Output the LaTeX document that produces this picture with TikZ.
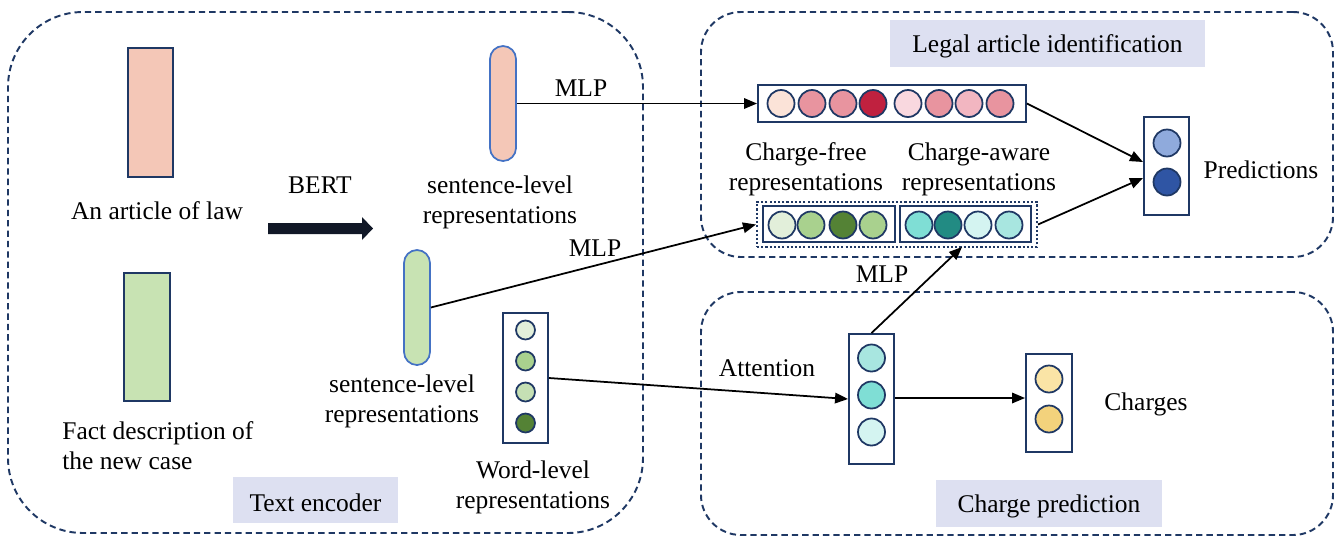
\documentclass[tikz,border=0pt]{standalone}
\usepackage{fontspec}
\setmainfont{Liberation Serif}
\usetikzlibrary{arrows.meta,fit,calc}
\definecolor{navy}{RGB}{31,56,100}
\definecolor{capblue}{RGB}{68,114,196}
\definecolor{lav}{RGB}{221,224,241}
\definecolor{pinkfill}{RGB}{244,199,183}
\definecolor{greenfill}{RGB}{200,227,179}
\definecolor{rA}{RGB}{251,227,216}
\definecolor{rB}{RGB}{232,148,159}
\definecolor{rC}{RGB}{192,33,63}
\definecolor{rD}{RGB}{249,216,223}
\definecolor{rE}{RGB}{242,182,193}
\definecolor{gA}{RGB}{226,239,218}
\definecolor{gB}{RGB}{169,209,142}
\definecolor{gC}{RGB}{84,130,53}
\definecolor{gD}{RGB}{197,224,180}
\definecolor{tA}{RGB}{127,222,213}
\definecolor{tB}{RGB}{34,139,131}
\definecolor{tC}{RGB}{212,244,241}
\definecolor{tD}{RGB}{168,230,224}
\definecolor{yA}{RGB}{250,228,166}
\definecolor{yB}{RGB}{243,210,124}
\definecolor{bA}{RGB}{143,170,220}
\definecolor{bB}{RGB}{47,85,164}
\definecolor{arrowdark}{RGB}{17,24,39}
\begin{document}
\begin{tikzpicture}[x=0.02cm,y=-0.02cm,
  font={\fontsize{14.5}{17}\selectfont},
  region/.style={draw=navy, dash pattern=on 3.6pt off 2.3pt, line width=1.1pt, inner sep=0pt},
  block/.style={draw=navy, line width=1.1pt, inner sep=0pt},
  capsule/.style={draw=capblue, line width=1pt, rounded corners=0.26cm, inner sep=0pt},
  vecbox/.style={draw=navy, line width=1.1pt, fill=white, inner sep=0pt},
  dotbox/.style={draw=navy, dash pattern=on 1.2pt off 1.2pt, line width=1.2pt, inner sep=0pt},
  circ/.style={circle, draw=navy, line width=1pt, minimum size=0.54cm, inner sep=0pt},
  scirc/.style={circle, draw=navy, line width=1pt, minimum size=0.38cm, inner sep=0pt},
  lbl/.style={fill=lav, inner sep=0pt},
  txt/.style={align=center, inner sep=0pt},
  conn/.style={line width=1pt, -{Triangle[length=0.26cm,width=0.21cm]}},
  plain/.style={line width=1pt}
]
\useasboundingbox (0,0) rectangle (1340,538);

% regions
\node[region, rounded corners=1.5cm, fit={(8,12) (643,533)}] (enc) {};
\node[region, rounded corners=0.8cm, fit={(701,12) (1333,257)}] (lai) {};
\node[region, rounded corners=0.8cm, fit={(701,292) (1333,535)}] (cp) {};

% region labels
\node[lbl, fit={(233,477) (398,523)}] (encl) {};
\node[txt] at ($(encl.center)+(0,3)$) (enct) {Text encoder};
\node[lbl, fit={(890,20) (1205,67)}] (lail) {};
\node[txt] at ($(lail.center)+(0,3)$) (lait) {Legal article identification};
\node[lbl, fit={(936,480) (1162,527)}] (cpl) {};
\node[txt] at ($(cpl.center)+(0,3)$) (cpt) {Charge prediction};

% inputs
\node[block, fill=pinkfill, fit={(128,48) (173,177)}] (law) {};
\node[txt] at (157,211) (lawt) {An article of law};
\node[block, fill=greenfill, fit={(124,273) (170,401)}] (fact) {};
\node[txt, anchor=west, align=left] at (62,446) (factt) {Fact description of\\the new case};

% BERT arrow
\node[txt] at (320,185) (bert) {BERT};
\fill[arrowdark] (268,223) -- (362,223) -- (362,217) -- (373,228.5) -- (362,240) -- (362,234) -- (268,234) -- cycle;

% sentence-level capsules
\node[capsule, fill=pinkfill, fit={(490,46) (516,161)}] (sl1) {};
\node[txt] at (500,202) (sl1t) {sentence-level\\representations};
\node[capsule, fill=greenfill, fit={(404,250) (430,365)}] (sl2) {};
\node[txt] at (402,401) (sl2t) {sentence-level\\representations};

% word-level
\node[vecbox, fit={(503,313) (548,443)}] (wl) {};
\node[scirc, fill=gA] (w1) at (525.5,330) {};
\node[scirc, fill=gB] (w2) at (525.5,361) {};
\node[scirc, fill=gD] (w3) at (525.5,392) {};
\node[scirc, fill=gC] (w4) at (525.5,423) {};
\node[txt] at (533,487) (wlt) {Word-level\\representations};

% legal article representation row
\node[vecbox, fit={(758,85) (1026,122)}] (lrep) {};
\foreach \xx/\cc [count=\i] in {781/rA,812/rB,843/rB,873/rC,908/rD,939/rB,969/rE,1000/rB}
  \node[circ, fill=\cc] (lr\i) at (\xx,103.5) {};

\node[txt] at (806,169) (cft) {Charge-free\\representations};
\node[txt] at (979,169) (cat) {Charge-aware\\representations};

% combined representation row
\node[dotbox, fit={(757,202) (1037,247)}] (comb) {};
\node[vecbox, fit={(763,206) (895,242)}] (cf) {};
\node[vecbox, fit={(900,206) (1031,242)}] (ca) {};
\foreach \xx/\cc [count=\i] in {782/gA,811/gB,843/gC,873/gB}
  \node[circ, fill=\cc] (g\i) at (\xx,225) {};
\foreach \xx/\cc [count=\i] in {919/tA,948/tB,978/tC,1009/tD}
  \node[circ, fill=\cc] (t\i) at (\xx,225) {};

% predictions
\node[vecbox, fit={(1144,117) (1189,215)}] (pred) {};
\node[circ, fill=bA] (p1) at (1167,143) {};
\node[circ, fill=bB] (p2) at (1167,182) {};
\node[txt] at (1261,170) (predt) {Predictions};

% attention
\node[vecbox, fit={(849,334) (894,464)}] (att) {};
\node[circ, fill=tD] (a1) at (871.5,358) {};
\node[circ, fill=tA] (a2) at (871.5,395) {};
\node[circ, fill=tC] (a3) at (871.5,432) {};
\node[txt] at (767,368) (attt) {Attention};

% charges
\node[vecbox, fit={(1026,354) (1072,452)}] (chg) {};
\node[circ, fill=yA] (c1) at (1049,379) {};
\node[circ, fill=yB] (c2) at (1049,419) {};
\node[txt] at (1146,404) (chgt) {Charges};

% MLP labels
\node[txt] at (581,88) (mlp1) {MLP};
\node[txt] at (595,248) (mlp2) {MLP};
\node[txt] at (882,274) (mlp3) {MLP};

% connector end points
\coordinate (pin1) at (1143,162);
\coordinate (pin2) at (1143,178);
\coordinate (mlpin) at (962,247);

% connectors
\draw[conn] (sl1.east) -- (lrep.west);
\draw[conn] (sl2.east) -- (comb.west);
\draw[conn] (wl.east) -- (att.west |- 0,399);
\draw[conn] (att.north) -- (mlpin);
\draw[conn] (att.east |- 0,398) -- (chg.west |- 0,398);
\draw[conn] (lrep.east) -- (pin1);
\draw[conn] (comb.east) -- (pin2);
\end{tikzpicture}
\end{document}
